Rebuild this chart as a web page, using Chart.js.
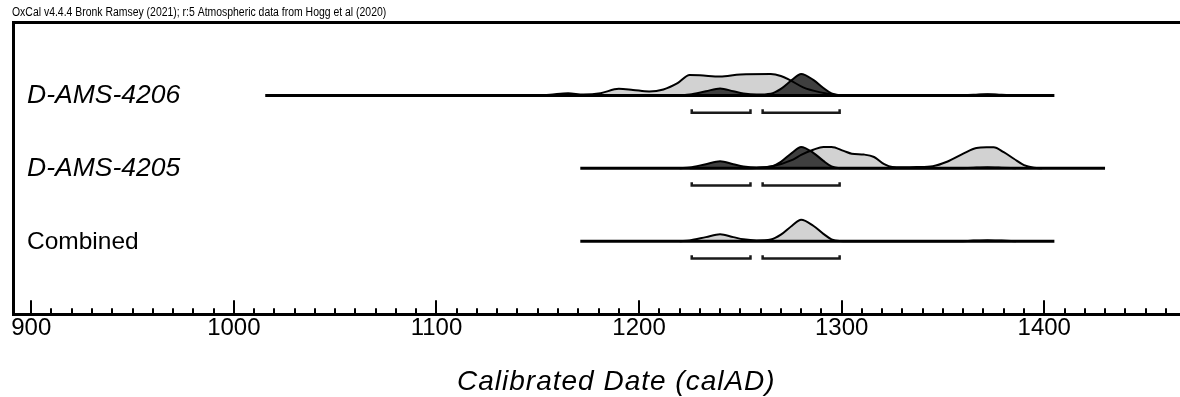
<!DOCTYPE html>
<html><head><meta charset="utf-8">
<script src="https://cdn.jsdelivr.net/npm/chart.js@4.4.1/dist/chart.umd.min.js"></script>
<style>html,body{margin:0;padding:0;background:#fff}#wrap{width:1180px;height:397px}</style>
</head><body><div id="wrap"><canvas id="c" width="1180" height="397"></canvas></div>
<script>
// ---- text ----
const headerText = 'OxCal v4.4.4 Bronk Ramsey (2021); r:5 Atmospheric data from Hogg et al (2020)';
const axisTitle = 'Calibrated Date (calAD)';
const rowNames = ['D-AMS-4206', 'D-AMS-4205', 'Combined'];
const rowItalic = [true, true, false];

// ---- data (calendar years AD, relative probability % of peak) ----
const spans = [[1015.5, 1405], [1171, 1430], [1171, 1405]];   // drawn range of each row
const range954 = [[1226, 1255], [1261, 1299]];                // 95.4% ranges

const years4206 = [1150,1156,1165,1172.5,1181,1190,1197,1205,1212,1219,1225,1230,1240,1250,1265,1270,1274.5,1281,1289,1296,1299,1304,1360,1366,1372,1378,1384];
const prob4206  = [0,3,10,4,10,30,25,18,27,56,93,92,86,96,98,89,70,37,15,4,1,0,0,2,4,2,0];

const years4205 = [1225,1240,1252,1258,1265,1276,1280,1286,1291,1295,1301,1305,1311,1316,1321,1325,1330,1337,1345,1352,1360,1366.5,1371.5,1375,1380,1385,1390,1395,1399];
const prob4205  = [0,2,1,2,8,40,62,85,98,98,80,67,63,52,19,6,5,6,10,30,67,93,96,96,74,44,15,3,0];

const yearsComb = [1220,1225,1233,1240,1246.5,1251.5,1258,1265,1270,1275.5,1280,1286,1291,1295,1299,1303,1358,1365,1372,1379,1386];
const probComb  = [0,4,19,32,19,9,4,8,30,71,98,71,34,9,1,0,0,3,5,3,0];

// unmodelled (light) and modelled (dark) for each row
const rowsUnmod = [[years4206, prob4206], [years4205, prob4205], [yearsComb, probComb]];
const rowsMod   = [[yearsComb, probComb], [yearsComb, probComb], null];

// ---- layout / style ----
const LEVELS = [3, 2, 1];
const HSCALE = 0.003;          // level units per % of peak
const LIGHT = '#d2d2d2', DARK = '#3f3f3f';
const FONT = "'Liberation Sans', Arial, sans-serif";

const datasets = [];
LEVELS.forEach((lev, r) => {
  const mk = (pair, color, order) => ({
    data: pair[0].map((x, i) => ({x, y: lev + pair[1][i] * HSCALE})),
    fill: {value: lev}, backgroundColor: color, borderColor: '#000', borderWidth: 2,
    pointRadius: 0, cubicInterpolationMode: 'monotone', order
  });
  datasets.push(mk(rowsUnmod[r], LIGHT, 3));
  if (rowsMod[r]) datasets.push(mk(rowsMod[r], DARK, 2));
  datasets.push({data: [{x: spans[r][0], y: lev}, {x: spans[r][1], y: lev}],
    borderColor: '#000', borderWidth: 3, pointRadius: 0, fill: false, order: 1});
  range954.forEach(([a, b]) => datasets.push({
    data: [{x: a, y: lev - 0.19}, {x: a, y: lev - 0.236}, {x: b, y: lev - 0.236}, {x: b, y: lev - 0.19}],
    borderColor: '#1a1a1a', borderWidth: 2.5, pointRadius: 0, fill: false, order: 1, borderJoinStyle: 'miter'
  }));
});

const tickMarks = {
  id: 'tickMarks',
  afterDraw(chart) {
    const s = chart.scales.x, ctx = chart.ctx, y0 = chart.chartArea.bottom;
    ctx.save(); ctx.strokeStyle = '#000'; ctx.lineWidth = 2;
    s.ticks.forEach(t => {
      const px = Math.round(s.getPixelForValue(t.value));
      const len = t.value % 100 === 0 ? 14 : 6;
      ctx.beginPath(); ctx.moveTo(px, y0); ctx.lineTo(px, y0 - len); ctx.stroke();
    });
    ctx.restore();
  }
};
const texts = {
  id: 'texts',
  afterDraw(chart) {
    const ctx = chart.ctx, ys = chart.scales.y;
    ctx.save(); ctx.fillStyle = '#000'; ctx.textBaseline = 'alphabetic'; ctx.textAlign = 'left';
    LEVELS.forEach((lev, r) => {
      ctx.font = rowItalic[r] ? 'italic 26.5px ' + FONT : '24.5px ' + FONT;
      ctx.fillText(rowNames[r], 27, ys.getPixelForValue(lev) + 8);
    });
    ctx.font = 'italic 28px ' + FONT;
    if ('letterSpacing' in ctx) ctx.letterSpacing = '1px';
    ctx.fillText(axisTitle, 457, 390);
    if ('letterSpacing' in ctx) ctx.letterSpacing = '0px';
    ctx.save();
    ctx.translate(12, 16); ctx.scale(0.87, 1);
    ctx.font = '12px ' + FONT;
    ctx.fillText(headerText, 0, 0);
    ctx.restore();
    ctx.restore();
  }
};

new Chart(document.getElementById('c'), {
  type: 'line',
  data: {datasets},
  plugins: [tickMarks, texts],
  options: {
    responsive: false, animation: false, devicePixelRatio: 1,
    layout: {padding: {left: 13, right: 0, top: 22.5, bottom: 54}},
    plugins: {legend: {display: false}, tooltip: {enabled: false}, title: {display: false},
      filler: {drawTime: 'beforeDatasetsDraw'}},
    scales: {
      x: {type: 'linear', position: 'bottom', min: 891, max: 1467,
        ticks: {stepSize: 10, includeBounds: false, autoSkip: false, maxRotation: 0, padding: 0, color: '#000',
          font: {family: FONT, size: 24}, callback: v => (v % 100 === 0 ? String(v) : '')},
        grid: {display: false, drawTicks: false}, border: {display: true, width: 3, color: '#000'}},
      xTop: {type: 'linear', position: 'top', min: 891, max: 1467,
        ticks: {display: false}, grid: {display: false, drawTicks: false}, border: {display: true, width: 3, color: '#000'}},
      y: {type: 'linear', min: 0, max: 4,
        ticks: {display: false}, grid: {display: false, drawTicks: false}, border: {display: true, width: 3, color: '#000'}}
    }
  }
});
</script></body></html>
